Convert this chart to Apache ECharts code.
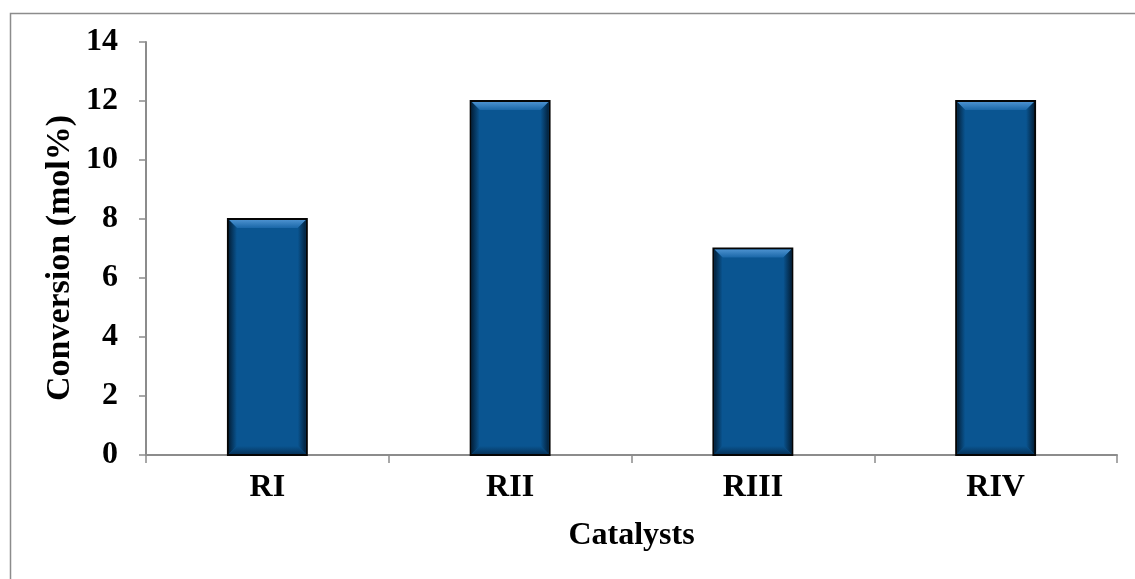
<!DOCTYPE html>
<html>
<head>
<meta charset="utf-8">
<script src="https://cdn.jsdelivr.net/npm/echarts@6/dist/echarts.min.js"></script>
<style>
  html, body { margin: 0; padding: 0; background: #fff; }
  #chart { width: 1135px; height: 579px; }
</style>
</head>
<body>
<div id="chart"></div>
<script>
// Catalyst conversion data
const categories = ['RI', 'RII', 'RIII', 'RIV'];
const conversion = [8, 12, 7, 12];
const yTicks = { min: 0, max: 14, interval: 2 };

const chart = echarts.init(document.getElementById('chart'));
const FONT = '"Liberation Serif", "Times New Roman", serif';
const FS = 32;

// Bevelled bar: dark blue body, light top facet, shaded sides and bottom
function renderBar(params, api) {
  const idx = api.value(0);
  const val = api.value(1);
  const top = api.coord([idx, val]);
  const base = api.coord([idx, 0]);
  const bw = api.size([1, 0])[0] * 0.325;
  const x = top[0] - bw / 2;
  const y = top[1];
  const h = base[1] - top[1];
  const b = 9; // bevel depth
  return {
    type: 'group',
    children: [
      { type: 'rect', shape: { x: x, y: y, width: bw, height: h },
        style: { fill: '#0a5591', stroke: '#050505', lineWidth: 2 } },
      // top facet
      { type: 'polygon', shape: { points: [[x + 1, y + 1], [x + bw - 1, y + 1], [x + bw - b, y + b], [x + b, y + b]] },
        style: { fill: new echarts.graphic.LinearGradient(0, 0, 0, 1, [
          { offset: 0, color: '#4b91cf' }, { offset: 1, color: '#1a67a8' }]) } },
      // left facet
      { type: 'polygon', shape: { points: [[x + 1, y + 1], [x + b, y + b], [x + b, y + h - b], [x + 1, y + h - 1]] },
        style: { fill: new echarts.graphic.LinearGradient(0, 0, 1, 0, [
          { offset: 0, color: '#03223d' }, { offset: 1, color: '#0a5591' }]) } },
      // right facet
      { type: 'polygon', shape: { points: [[x + bw - 1, y + 1], [x + bw - b, y + b], [x + bw - b, y + h - b], [x + bw - 1, y + h - 1]] },
        style: { fill: new echarts.graphic.LinearGradient(1, 0, 0, 0, [
          { offset: 0, color: '#03223d' }, { offset: 1, color: '#0a5591' }]) } },
      // bottom facet
      { type: 'polygon', shape: { points: [[x + 1, y + h - 1], [x + bw - 1, y + h - 1], [x + bw - b, y + h - b], [x + b, y + h - b]] },
        style: { fill: new echarts.graphic.LinearGradient(0, 1, 0, 0, [
          { offset: 0, color: '#06345c' }, { offset: 1, color: '#0a5591' }]) } }
    ]
  };
}

chart.setOption({
  backgroundColor: '#ffffff',
  animation: false,
  graphic: [{
    type: 'rect', left: 8, top: 11, silent: true,
    shape: { x: 0, y: 0, width: 1140, height: 600 },
    style: { fill: 'none', stroke: '#8c8c8c', lineWidth: 1.5 }
  }, {
    // vertical axis title
    type: 'text', x: 60, y: 258, rotation: Math.PI / 2, silent: true,
    style: { text: 'Conversion (mol%)', fill: '#000', font: 'bold 34px ' + FONT,
             align: 'center', verticalAlign: 'middle' }
  }],
  grid: { left: 146, top: 42, width: 971, height: 413, containLabel: false },
  xAxis: {
    type: 'category',
    data: categories,
    boundaryGap: true,
    axisLine: { show: true, lineStyle: { color: '#8c8c8c', width: 2 } },
    axisTick: { show: true, inside: false, length: 8, alignWithLabel: false, lineStyle: { color: '#8c8c8c', width: 1.5 } },
    axisLabel: { color: '#000', fontFamily: FONT, fontWeight: 'bold', fontSize: FS, margin: 17 },
    name: 'Catalysts',
    nameLocation: 'middle',
    nameGap: 65,
    nameTextStyle: { color: '#000', fontFamily: FONT, fontWeight: 'bold', fontSize: FS }
  },
  yAxis: {
    type: 'value',
    min: yTicks.min, max: yTicks.max, interval: yTicks.interval,
    splitLine: { show: false },
    axisLine: { show: true, lineStyle: { color: '#8c8c8c', width: 2 } },
    axisTick: { show: true, length: 7, lineStyle: { color: '#8c8c8c', width: 1.5 } },
    axisLabel: { color: '#000', fontFamily: FONT, fontWeight: 'bold', fontSize: FS, margin: 28 }
  },
  series: [{
    type: 'custom',
    renderItem: renderBar,
    encode: { x: 0, y: 1 },
    data: conversion.map((v, i) => [i, v])
  }]
});
</script>
</body>
</html>
